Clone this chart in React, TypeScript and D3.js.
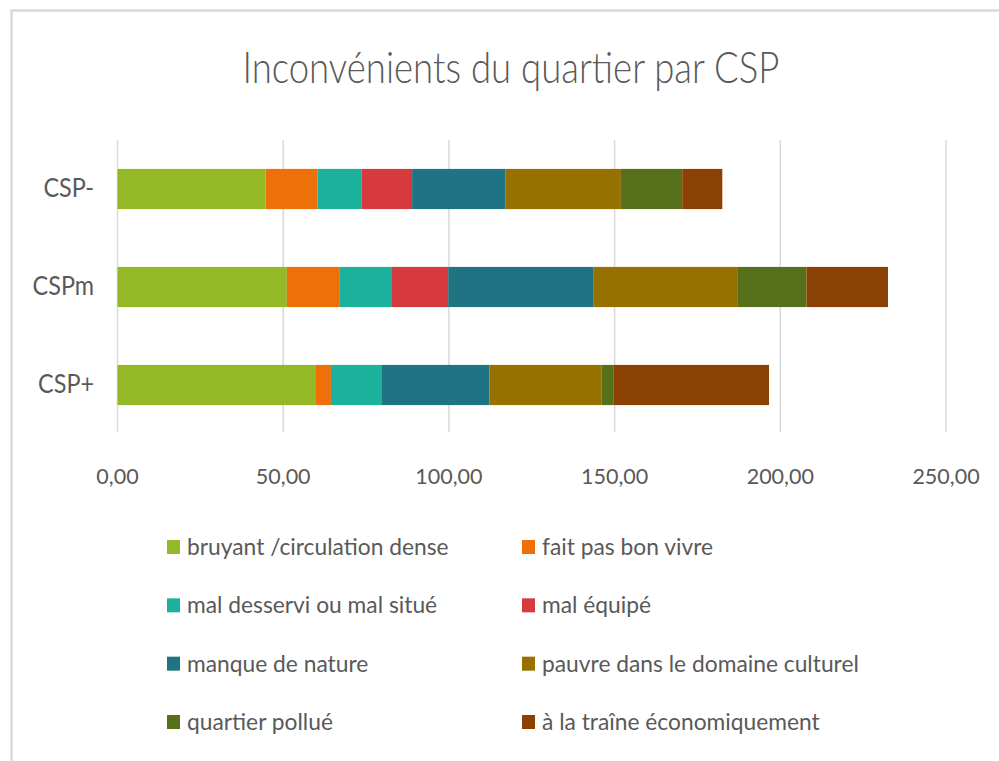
import { useMemo } from 'react';
import * as d3 from 'd3';

// categories (top to bottom) and series (stack order)
const categories = ['CSP-', 'CSPm', 'CSP+'];
const seriesNames = [
  'bruyant /circulation dense',
  'fait pas bon vivre',
  'mal desservi ou mal situé',
  'mal équipé',
  'manque de nature',
  'pauvre dans le domaine culturel',
  'quartier pollué',
  'à la traîne économiquement',
];
const seriesColors = ['#93b926', '#ee7008', '#1bb19c', '#d63a3e', '#1f7484', '#977100', '#57701a', '#8c4104'];

// values per category, in series order
const valuesCSPminus = [44.7, 15.6, 13.3, 15.3, 28.1, 34.9, 18.5, 12.1];
const valuesCSPm = [51.1, 15.8, 15.7, 17.2, 43.9, 43.3, 20.9, 24.6];
const valuesCSPplus = [59.9, 4.5, 15.2, 0, 32.6, 33.8, 3.6, 47.0];

const xTicks = [0, 50, 100, 150, 200, 250];

const W = 999;
const H = 761;
const FONT = 'Lato, "Open Sans", sans-serif';
const TEXT = '#595959';

const frFormat = d3.formatLocale({ decimal: ',', thousands: ' ', grouping: [3], currency: ['', ' €'] }).format('.2f');

export default function App() {
  const rows = useMemo(() => {
    const all = [valuesCSPminus, valuesCSPm, valuesCSPplus];
    return categories.map((c, i) => {
      const r: Record<string, any> = { cat: c };
      seriesNames.forEach((s, j) => { r[s] = all[i][j]; });
      return r;
    });
  }, []);

  const stacked = useMemo(() => d3.stack<any>().keys(seriesNames)(rows), [rows]);

  const x = d3.scaleLinear().domain([0, 250]).range([117.5, 946]);
  const y = d3.scaleBand().domain(categories).range([140, 434]).paddingInner(0.59).paddingOuter(0.295);

  const legendX = [167, 522];
  const legendY = d3.scalePoint<number>().domain([0, 1, 2, 3]).range([547, 722]);

  return (
    <div style={{ position: 'fixed', left: 0, top: 0 }}>
      <svg width={W} height={H} style={{ display: 'block', background: '#fff' }}>
        {/* chart frame */}
        <rect x={11.5} y={10.5} width={1100} height={900} fill="#fff" stroke="#d9d9d9" strokeWidth={2.5} />

        {/* title */}
        <text
          transform="translate(511,83) scale(0.85,1)"
          textAnchor="middle"
          fontFamily={FONT}
          fontWeight={300}
          fontSize={43}
          fill={TEXT}
        >
          Inconvénients du quartier par CSP
        </text>

        {/* gridlines */}
        {xTicks.map(t => (
          <line key={t} x1={x(t)} x2={x(t)} y1={140} y2={432} stroke="#d9d9d9" strokeWidth={1.5} />
        ))}

        {/* bars */}
        {stacked.map((layer, i) => (
          <g key={layer.key} fill={seriesColors[i]}>
            {layer.map(d => (
              <rect
                key={d.data.cat}
                x={x(d[0])}
                y={y(d.data.cat)}
                width={Math.max(0, x(d[1]) - x(d[0]))}
                height={y.bandwidth()}
              />
            ))}
          </g>
        ))}

        {/* category labels */}
        {categories.map(c => (
          <text
            key={c}
            transform={`translate(94,${(y(c) ?? 0) + y.bandwidth() / 2 + 8}) scale(0.9,1)`}
            textAnchor="end"
            fontFamily={FONT}
            fontSize={26}
            fill={TEXT}
          >
            {c}
          </text>
        ))}

        {/* x tick labels */}
        {xTicks.map(t => (
          <text
            key={t}
            x={x(t)}
            y={484}
            textAnchor="middle"
            fontFamily={FONT}
            fontSize={21.5}
            fill={TEXT}
          >
            {frFormat(t)}
          </text>
        ))}

        {/* legend */}
        {seriesNames.map((s, i) => {
          const lx = legendX[i % 2];
          const ly = legendY(Math.floor(i / 2)) ?? 0;
          return (
            <g key={s}>
              <rect x={lx} y={ly - 7} width={13} height={14} fill={seriesColors[i]} />
              <text
                transform={`translate(${lx + 20},${ly + 8}) scale(0.95,1)`}
                fontFamily={FONT}
                fontSize={24}
                fill={TEXT}
              >
                {s}
              </text>
            </g>
          );
        })}
      </svg>
    </div>
  );
}
